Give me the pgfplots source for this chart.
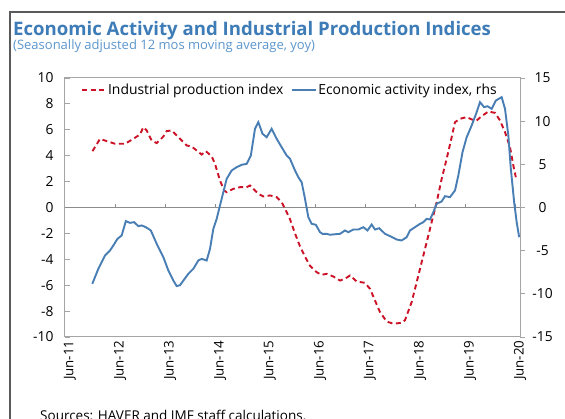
\documentclass[border=0pt]{standalone}
\usepackage{pgfplots}
\pgfplotsset{compat=1.18}
\usepackage{fontspec}
\setmainfont{Open Sans}
\definecolor{ttl}{RGB}{62,124,184}
\definecolor{sub}{RGB}{92,150,204}
\definecolor{bl}{RGB}{72,126,180}
\definecolor{rd}{RGB}{204,18,38}
\definecolor{frm}{RGB}{90,90,90}
\definecolor{axg}{RGB}{165,165,165}
\begin{document}
\begin{tikzpicture}
\useasboundingbox (0pt,0pt) rectangle (565pt,-419pt);
\fill[white] (0pt,0pt) rectangle (565pt,-419pt);
\draw[frm, line width=1.6pt] (10pt,-419pt) -- (10pt,-12pt) -- (566pt,-12pt);
\node[anchor=base west, inner sep=0pt, text=ttl, font=\fontsize{18.6}{20}\selectfont\bfseries] at (13pt,-35.5pt) {Economic Activity and Industrial Production Indices};
\node[anchor=base west, inner sep=0pt, text=sub, font=\fontsize{13}{15}\selectfont] at (13pt,-49.5pt) {(Seasonally adjusted 12 mos moving average, yoy)};
\node[anchor=base west, inner sep=0pt, font=\fontsize{13.5}{15}\selectfont] at (40pt,-420.5pt) {Sources: HAVER and IMF staff calculations.};
\begin{axis}[
  at={(65pt,-78pt)}, anchor=north west,
  scale only axis, width=455pt, height=259pt,
  xmin=0, xmax=109.2, ymin=-10, ymax=10,
  ytick={-10,-8,...,10},
  xtick={0,12,...,108},
  xticklabels={Jun-11,Jun-12,Jun-13,Jun-14,Jun-15,Jun-16,Jun-17,Jun-18,Jun-19,Jun-20},
  x tick label style={rotate=90, anchor=east, yshift=-5pt, font=\fontsize{13.3}{15}\selectfont},
  xtick style={draw=none},
  ytick pos=left, tick align=inside,
  ytick style={axg, line width=0.8pt},
  major tick length=5pt,
  y tick label style={xshift=-8pt, font=\fontsize{13.8}{15}\selectfont},
  axis line style={axg, line width=1pt},
  /pgf/number format/assume math mode=true,
  clip=false,
  legend style={at={(0.0286,0.955)}, anchor=west, draw=none, fill=none,
    font=\fontsize{13.9}{15}\selectfont, legend columns=2,
    /tikz/every even column/.append style={column sep=7pt},
    nodes={inner sep=1pt}},
  legend image code/.code={\draw[#1] (0pt,0pt) -- (24pt,0pt);},
]
\draw[gray!90, line width=0.9pt] (axis cs:0,0) -- (axis cs:109.2,0);
\pgfplotsinvokeforeach{12,24,...,108}{\draw[gray!90, line width=0.9pt] (axis cs:#1,0) -- ++(0pt,3.5pt);}
\addplot[rd, line width=1.9pt, dash pattern=on 5pt off 3.5pt] coordinates {
(6.6,4.35)(8.4,5.3)(9.6,5.17)(12.0,4.92)(14.4,4.92)(16.4,5.3)(18.0,5.64)(18.8,6.2)(19.6,5.95)
(20.8,5.17)(22.0,4.97)(23.6,5.48)(24.4,5.9)(25.6,5.95)(27.2,5.43)(29.2,4.79)(30.4,4.71)
(31.6,4.4)(32.8,4.09)(33.8,4.35)(35.2,3.95)(36.0,3.37)(37.2,2.08)(38.2,1.31)(38.8,1.18)
(40.4,1.44)(42.0,1.57)(43.6,1.57)(44.4,1.7)(45.2,1.44)(46.4,1.06)(47.6,0.85)(49.2,0.93)
(50.8,0.8)(52.0,0.41)(53.2,-0.36)(54.0,-0.9)(55.2,-2.0)(56.4,-3.0)(57.6,-3.8)(58.8,-4.5)
(60.4,-5.0)(61.6,-5.2)(62.8,-5.12)(64.4,-5.33)(66.0,-5.64)(67.2,-5.5)(68.4,-5.25)(70.0,-5.71)
(72.0,-5.82)(73.2,-6.28)(74.4,-7.18)(75.6,-8.08)(77.2,-8.8)(78.8,-8.98)(80.8,-8.9)(81.6,-8.7)
(82.4,-8.0)(83.2,-7.3)(84.4,-5.77)(85.6,-4.22)(86.8,-2.68)(88.0,-1.13)(89.2,0.41)(90.4,2.21)
(91.6,3.76)(92.8,5.43)(93.6,6.59)(94.8,6.85)(96.4,6.98)(97.6,6.8)(98.8,6.72)(100.0,7.05)
(101.6,7.41)(103.2,7.31)(104.4,6.72)(105.6,5.82)(106.8,4.66)(107.6,3.24)(108.2,2.34)
};
\addlegendentry{Industrial production index}
\addlegendimage{bl, line width=1.9pt}
\addlegendentry{Economic activity index, rhs}
\end{axis}
\begin{axis}[
  at={(65pt,-78pt)}, anchor=north west,
  scale only axis, width=455pt, height=259pt,
  xmin=0, xmax=109.2, ymin=-15, ymax=15,
  ytick={-15,-10,...,15},
  hide x axis,
  axis y line*=right, tick align=outside,
  ytick style={axg, line width=0.8pt},
  major tick length=5pt,
  axis line style={axg, line width=1pt},
  y tick label style={font=\fontsize{13.8}{15}\selectfont, text width=28pt, align=center, xshift=0pt},
  /pgf/number format/assume math mode=true,
]
\addplot[bl, line width=1.9pt] coordinates {
(6.55,-8.84)(8.0,-7.1)(9.6,-5.56)(10.8,-4.98)(11.6,-4.4)(12.6,-3.63)(13.6,-3.24)(14.6,-1.58)
(15.6,-1.78)(16.6,-1.7)(17.6,-2.16)(18.4,-2.08)(19.4,-2.28)(20.6,-2.66)(22.0,-4.2)(23.6,-5.75)
(24.8,-7.3)(26.0,-8.46)(26.8,-9.1)(27.6,-9.0)(29.6,-7.68)(30.8,-7.1)(32.0,-6.14)(32.8,-5.95)
(34.0,-6.14)(34.8,-4.79)(35.6,-2.47)(36.4,-1.31)(37.6,1.0)(38.8,3.32)(40.0,4.29)(41.2,4.67)
(42.4,4.94)(43.6,5.06)(44.6,6.02)(45.6,9.12)(46.4,9.88)(47.4,8.54)(48.4,8.14)(49.6,9.12)
(50.8,7.96)(52.0,6.98)(53.2,6.02)(54.0,5.64)(55.2,4.29)(56.0,3.51)(56.8,2.93)(57.6,1.0)
(58.4,-1.12)(59.2,-1.89)(60.2,-2.0)(61.2,-2.86)(61.8,-3.05)(62.8,-3.05)(63.6,-3.16)(64.8,-3.1)
(66.0,-3.05)(67.2,-2.66)(68.0,-2.86)(69.2,-2.55)(70.4,-2.55)(71.6,-2.28)(72.6,-2.66)(73.6,-1.97)
(74.4,-2.55)(75.4,-2.4)(76.8,-3.05)(78.0,-3.32)(79.6,-3.71)(80.8,-3.82)(82.0,-3.44)(82.8,-2.66)
(84.0,-2.28)(85.2,-1.89)(86.0,-1.7)(86.8,-1.31)(87.6,-1.39)(88.4,-0.54)(89.2,0.43)(90.4,0.7)
(91.2,1.31)(92.4,1.2)(93.6,1.97)(94.4,3.71)(95.4,6.4)(96.4,8.14)(97.6,9.5)(98.8,11.04)
(99.6,12.2)(100.6,11.62)(101.4,11.73)(102.4,11.43)(103.4,12.39)(104.8,12.78)(105.6,11.43)
(106.4,8.34)(107.0,4.48)(107.8,0.61)(108.4,-1.7)(109.0,-3.44)
};
\end{axis}
\end{tikzpicture}
\end{document}
